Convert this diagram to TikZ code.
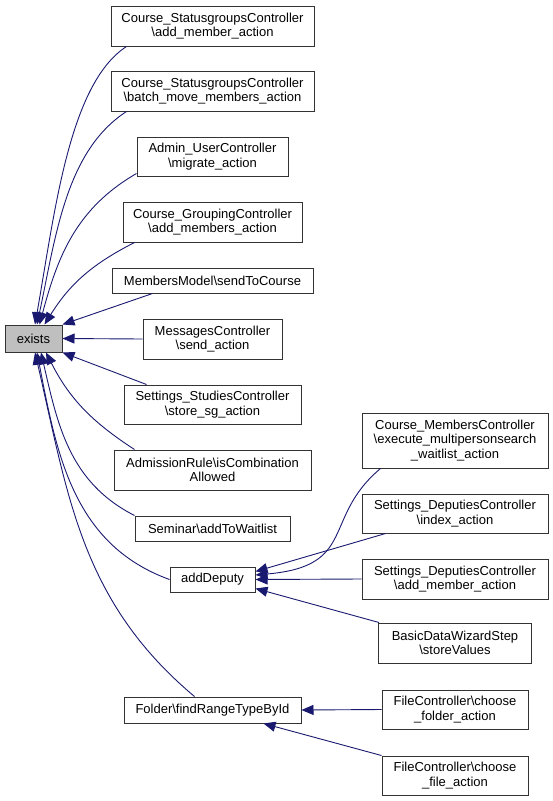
\documentclass[tikz,border=0pt]{standalone}
\usepackage{fontspec}
\setmainfont{Liberation Sans}
\usetikzlibrary{arrows.meta}
\definecolor{callblue}{HTML}{191970}
\definecolor{boxgray}{HTML}{BFBFBF}
\tikzset{
  fn/.style={draw=black!80,line width=1pt,fill=white,inner sep=0pt,align=center,font=\fontsize{13}{14.5}\selectfont},
  caller/.style={draw=callblue,line width=0.9pt,-{Triangle[length=12pt,width=10pt]}},
}
\begin{document}
\begin{tikzpicture}[x=1pt,y=1pt]
\def\colA{212.5}
\def\colB{455}
\useasboundingbox(0,0)rectangle(553,-801);
% called function
\draw(33.5,-338.5)node[fn,fill=boxgray,minimum width=57,minimum height=27](exists){exists};
% first column
\draw(\colA,-26)node[fn,minimum width=203,minimum height=40](sgAdd){Course\_StatusgroupsController\\\textbackslash add\_member\_action};
\draw(\colA,-91)node[fn,minimum width=203,minimum height=40](sgBatch){Course\_StatusgroupsController\\\textbackslash batch\_move\_members\_action};
\draw(\colA,-156.5)node[fn,minimum width=151,minimum height=39](adminMigrate){Admin\_UserController\\\textbackslash migrate\_action};
\draw(\colA,-222)node[fn,minimum width=179,minimum height=40](groupAdd){Course\_GroupingController\\\textbackslash add\_members\_action};
\draw(\colA,-280.5)node[fn,minimum width=201,minimum height=25](membersSend){MembersModel\textbackslash sendToCourse};
\draw(\colA,-339)node[fn,minimum width=139,minimum height=40](msgSend){MessagesController\\\textbackslash send\_action};
\draw(\colA,-404.5)node[fn,minimum width=177,minimum height=39](studiesStore){Settings\_StudiesController\\\textbackslash store\_sg\_action};
\draw(\colA,-470)node[fn,minimum width=197,minimum height=40](admCombo){AdmissionRule\textbackslash isCombination\\Allowed};
\draw(\colA,-528.5)node[fn,minimum width=155,minimum height=25](seminarWait){Seminar\textbackslash addToWaitlist};
\draw(\colA,-579.5)node[fn,minimum width=85,minimum height=25](addDeputy){addDeputy};
\draw(\colA,-710)node[fn,minimum width=177,minimum height=26](folderRange){Folder\textbackslash findRangeTypeById};
% second column
\draw(\colB,-440.5)node[fn,minimum width=186,minimum height=55](cmExec){Course\_MembersController\\\textbackslash execute\_multipersonsearch\\\_waitlist\_action};
\draw(\colB,-513.5)node[fn,minimum width=186,minimum height=39](depIndex){Settings\_DeputiesController\\\textbackslash index\_action};
\draw(\colB,-579)node[fn,minimum width=186,minimum height=40](depAdd){Settings\_DeputiesController\\\textbackslash add\_member\_action};
\draw(\colB,-643)node[fn,minimum width=153,minimum height=40](wizard){BasicDataWizardStep\\\textbackslash storeValues};
\draw(\colB,-709.5)node[fn,minimum width=146,minimum height=39](fileFolder){FileController\textbackslash choose\\\_folder\_action};
\draw(\colB,-775.5)node[fn,minimum width=146,minimum height=39](fileFile){FileController\textbackslash choose\\\_file\_action};
% calls into exists
\draw[caller]([xshift=16]sgAdd.south west) to [out=213,in=80,out looseness=0.6] ([xshift=1.5]exists.north);
\draw[caller]([xshift=16]sgBatch.south west) to [out=213,in=78,out looseness=0.8] ([xshift=3.5]exists.north);
\draw[caller]([yshift=3]adminMigrate.south west) to [out=210,in=75] ([xshift=6]exists.north);
\draw[caller]([xshift=12]groupAdd.south west) to [out=207,in=58] ([xshift=11]exists.north);
\draw[caller]([xshift=41]membersSend.south west) -- (exists.north east);
\draw[caller](msgSend.west) -- (exists.east);
\draw[caller]([xshift=23]studiesStore.north west) -- (exists.south east);
\draw[caller]([xshift=21]admCombo.north west) to [out=147,in=-63] ([xshift=12.5]exists.south);
\draw[caller](seminarWait.north west) to [out=153,in=-77] ([xshift=7.5]exists.south);
\draw[caller](addDeputy.west) to [out=160,in=-79] ([xshift=3.5]exists.south);
\draw[caller]([xshift=71]folderRange.north west) to [out=140,in=-77] ([xshift=1.5]exists.south);
% calls into addDeputy
\draw[caller]([xshift=19]cmExec.south west) to [out=220,in=5,out looseness=1.2,in looseness=1.6] ([yshift=4.5]addDeputy.east);
\draw[caller]([xshift=24]depIndex.south west) -- ([yshift=8]addDeputy.east);
\draw[caller](depAdd.west) -- (addDeputy.east);
\draw[caller]([xshift=1]wizard.north west) -- ([yshift=-9]addDeputy.east);
% calls into findRangeTypeById
\draw[caller](fileFolder.west) -- (folderRange.east);
\draw[caller](fileFile.north west) -- ([xshift=-38]folderRange.south east);
\end{tikzpicture}
\end{document}
